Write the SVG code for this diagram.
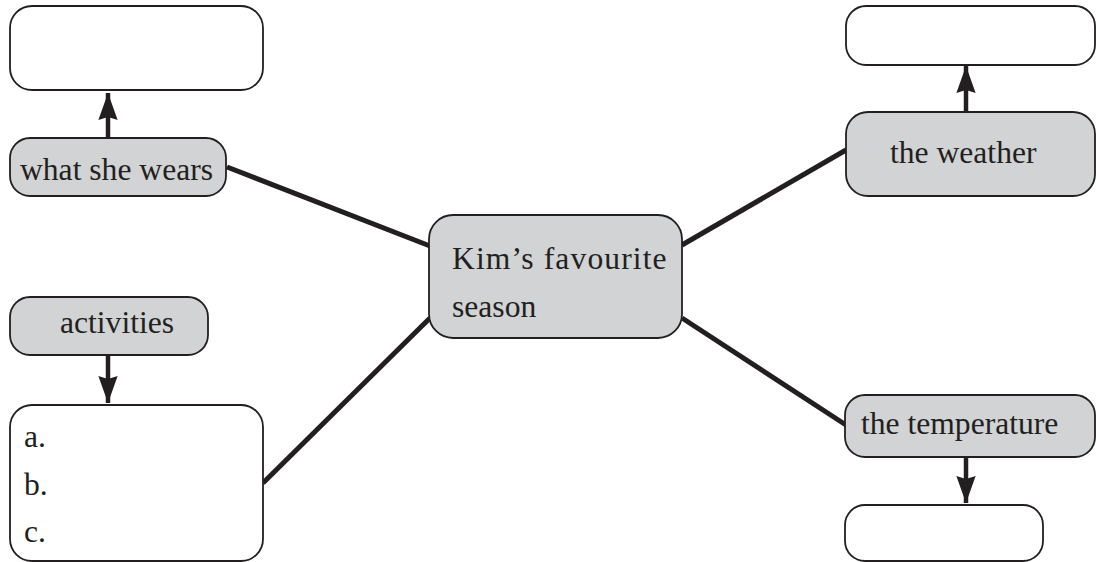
<svg xmlns="http://www.w3.org/2000/svg" width="1096" height="562" viewBox="0 0 1096 562">
<style>
.box{fill:#ffffff;stroke:#231f20;stroke-width:1.8}
.topic{fill:#d1d3d4;stroke:#231f20;stroke-width:1.8}
.t{font-family:"Liberation Serif","Times New Roman",serif;font-size:31.6px;fill:#231f20}
.link{stroke:#231f20;stroke-width:5;fill:none}
.arr{stroke:#231f20;stroke-width:4.5;fill:none}
</style>
<defs>
<marker id="ah" viewBox="0 0 14 10" refX="14" refY="5" markerWidth="6" markerHeight="4.4" markerUnits="strokeWidth" orient="auto">
<path d="M0,0 L14,5 L0,10 L1.5,5 Z" fill="#231f20"/>
</marker>
</defs>
<rect width="1096" height="562" fill="#ffffff"/>
<g id="connectors">
<line class="link" x1="227" y1="167" x2="430" y2="246"/>
<line class="link" x1="682" y1="245" x2="846" y2="150"/>
<line class="link" x1="682" y1="318" x2="846" y2="425"/>
<line class="link" x1="430" y1="318" x2="263" y2="483"/>
<line class="arr" x1="108" y1="138" x2="108" y2="93" marker-end="url(#ah)"/>
<line class="arr" x1="966" y1="112" x2="966" y2="66" marker-end="url(#ah)"/>
<line class="arr" x1="108" y1="356" x2="108" y2="403" marker-end="url(#ah)"/>
<line class="arr" x1="966" y1="457" x2="966" y2="503" marker-end="url(#ah)"/>
</g>
<g id="wears-answer"><rect class="box" x="10" y="6" width="253" height="84" rx="22"/></g>
<g id="wears"><rect class="topic" x="10" y="138" width="216" height="58" rx="20"/><text class="t" x="20" y="180">what she wears</text></g>
<g id="center"><rect class="topic" x="429" y="215" width="253" height="123" rx="24"/><text class="t" x="452" y="269" letter-spacing="1.1">Kim’s favourite</text><text class="t" x="452" y="317">season</text></g>
<g id="weather-answer"><rect class="box" x="846" y="6" width="249" height="59" rx="20"/></g>
<g id="weather"><rect class="topic" x="846" y="112" width="249" height="84" rx="22"/><text class="t" x="890" y="163">the weather</text></g>
<g id="activities"><rect class="topic" x="10" y="297" width="198" height="58" rx="20"/><text class="t" x="60" y="333">activities</text></g>
<g id="activities-answer"><rect class="box" x="10" y="405" width="253" height="156" rx="22"/><text class="t" x="24" y="447">a.</text><text class="t" x="24" y="495">b.</text><text class="t" x="24" y="542">c.</text></g>
<g id="temperature"><rect class="topic" x="845" y="395" width="250" height="62" rx="20"/><text class="t" x="861" y="434">the temperature</text></g>
<g id="temperature-answer"><rect class="box" x="845" y="505" width="198" height="56" rx="20"/></g>
</svg>
